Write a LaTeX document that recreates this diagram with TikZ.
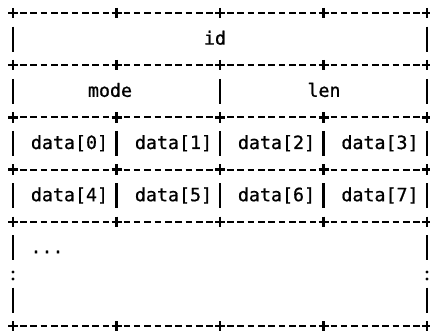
\documentclass[tikz,border=0pt]{standalone}
\usepackage{fontspec}
\newfontfamily\recfont[FakeBold=0.9]{DejaVu Sans Mono}
\usetikzlibrary{math}

\begin{document}
\begin{tikzpicture}[x=1pt,y=-1pt,
    cell/.style={font=\recfont\fontsize{18.3}{20}\selectfont,anchor=base,inner sep=0pt},
    rule/.style={line width=2.2pt,dash pattern=on 6.6pt off 3.75pt},
    bar/.style={line width=2.3pt}]
  \useasboundingbox (0,0) rectangle (430,331);
  \tikzmath{\w=10.35; \h=26.1; \xo=13; \yo=13;}

  % separator rows, + at every column joined by dashes
  \foreach \r in {0,2,4,6,8,12}{
    \foreach \k in {0,10,20,30}
      \draw[rule](\xo+\k*\w+0.68*\w,\yo+\r*\h)--(\xo+\k*\w+9.32*\w,\yo+\r*\h);
    \foreach \k in {0,10,...,40}
      \draw[bar](\xo+\k*\w-5,\yo+\r*\h)--++(10,0)
                (\xo+\k*\w,\yo+\r*\h-5.2)--++(0,10.4);
  }

  % field borders
  \foreach \k/\r in {0/1,40/1,0/3,20/3,40/3,0/9,40/9,0/11,40/11}
    \draw[bar](\xo+\k*\w,\yo+\r*\h-12.5)--++(0,25);
  \foreach \r in {5,7}
    \foreach \k in {0,10,...,40}
      \draw[bar](\xo+\k*\w,\yo+\r*\h-12.5)--++(0,25);
  \foreach \k in {0,40}{
    \fill(\xo+\k*\w,\yo+10*\h-2)circle(1.6);
    \fill(\xo+\k*\w,\yo+10*\h+5)circle(1.6);
  }

  \node[cell](id) at (215,\yo+\h+5.5){id};
  \node[cell](mode) at (110,\yo+3*\h+5.5){mode};
  \node[cell](len) at (324,\yo+3*\h+5.5){len};
  \foreach \i/\x [evaluate=\i as \j using int(\i+4)] in {0/69.5,1/173.5,2/276.5,3/380}{
    \node[cell](d\i) at (\x,\yo+5*\h+5.5){data[\i]};
    \node[cell](d\j) at (\x,\yo+7*\h+5.5){data[\j]};
  }
  \node[cell](more) at (47,\yo+9*\h+5.5){...};
\end{tikzpicture}
\end{document}
